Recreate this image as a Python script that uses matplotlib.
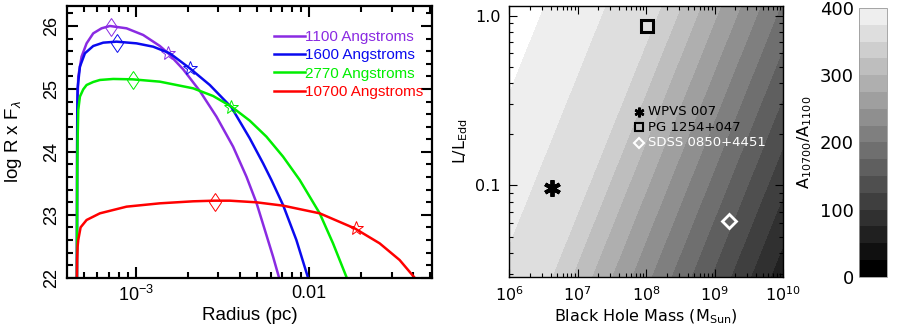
import numpy as np
import matplotlib
matplotlib.use('Agg')
import matplotlib.pyplot as plt
from matplotlib.ticker import FixedLocator, FixedFormatter, NullFormatter

# ---- left panel: log R x F_lambda vs radius (log10 r [pc], value)
purple_logr = [-3.3404, -3.3394, -3.3385, -3.3365, -3.3327, -3.3135, -3.2846, -3.2462, -3.1981,
               -3.1500, -3.0538, -2.9577, -2.8615, -2.8135, -2.7269, -2.6308, -2.5346, -2.4385,
               -2.3615, -2.3038, -2.2462, -2.2077, -2.1731]
purple_val = [22.000, 23.659, 24.401, 24.825, 25.196, 25.514, 25.725, 25.884, 25.964,
              26.001, 25.964, 25.858, 25.683, 25.567, 25.312, 24.968, 24.560, 24.083,
              23.606, 23.192, 22.678, 22.334, 22.000]

blue_logr = [-3.3404, -3.3394, -3.3385, -3.3365, -3.3231, -3.2942, -3.2462, -3.1885, -3.1115,
             -2.9962, -2.9000, -2.8038, -2.6885, -2.5731, -2.4481, -2.3423, -2.2654, -2.2173,
             -2.1500, -2.0731, -2.0058]
blue_val = [22.000, 23.871, 24.666, 25.010, 25.355, 25.567, 25.683, 25.736, 25.752,
            25.725, 25.672, 25.567, 25.328, 25.063, 24.708, 24.215, 23.818, 23.553,
            23.155, 22.599, 22.000]

green_logr = [-3.3404, -3.3394, -3.3385, -3.3365, -3.3327, -3.3231, -3.3038, -3.2846, -3.2462,
              -3.2077, -3.1308, -3.0192, -2.8615, -2.6692, -2.5538, -2.4481, -2.3423, -2.2462,
              -2.1500, -2.0538, -1.9385, -1.8615, -1.7808]
green_val = [22.000, 23.129, 23.765, 24.189, 24.666, 24.878, 24.994, 25.063, 25.111,
             25.143, 25.159, 25.153, 25.116, 25.010, 24.888, 24.719, 24.496, 24.242,
             23.924, 23.553, 23.023, 22.546, 21.989]

red_logr = [-3.3404, -3.3394, -3.3365, -3.3327, -3.3192, -3.2846, -3.2077, -3.0538, -2.8615,
            -2.6692, -2.5481, -2.4577, -2.3038, -2.1500, -1.9385, -1.7365, -1.5923, -1.4769,
            -1.3904]
red_val = [22.000, 22.281, 22.493, 22.599, 22.800, 22.917, 23.023, 23.129, 23.182,
           23.214, 23.224, 23.224, 23.198, 23.145, 23.023, 22.784, 22.546, 22.281,
           22.000]

series = [
    ('1100 Angstroms', '#8a2be2', purple_logr, purple_val, (-3.1442, 25.990), (-2.8135, 25.567)),
    ('1600 Angstroms', '#0a0aef', blue_logr, blue_val, (-3.1115, 25.736), (-2.6885, 25.328)),
    ('2770 Angstroms', '#00ee00', green_logr, green_val, (-3.0192, 25.143), (-2.4481, 24.719)),
    ('10700 Angstroms', '#ff0000', red_logr, red_val, (-2.5442, 23.208), (-1.7308, 22.784)),
]

# ---- right panel: A10700/A1100 bands; boundaries given as log M - log(L/Ledd)
bnd_u = [5.50, 6.46, 7.34, 8.16, 8.45, 8.74, 9.03, 9.32, 9.61, 9.90, 10.19, 10.48, 10.77,
         11.06, 11.35, 12.00]
bnd_val = [425, 400, 375, 350, 325, 300, 275, 250, 225, 200, 175, 150, 125,
           100, 75, 50]
levels = list(range(0, 425, 25))

objects = ['WPVS 007', 'PG 1254+047', 'SDSS 0850+4451']
obj_mass = [4.2e6, 1.01e8, 1.63e9]
obj_ledd = [0.096, 0.87, 0.0615]

fig = plt.figure(figsize=(9.0, 3.29), dpi=100)
plt.rcParams['mathtext.fontset'] = 'custom'
plt.rcParams['mathtext.rm'] = 'Liberation Sans'
plt.rcParams['mathtext.it'] = 'Liberation Sans:italic'

# ================= left panel
ax = fig.add_axes([0.0744, 0.156, 0.4056, 0.826])
for name, col, lr, v, dia, star in series:
    ax.plot(10 ** np.array(lr), v, color=col, lw=1.8, label=name)
    ax.plot(10 ** dia[0], dia[1], marker='d', ms=9.5, mfc='none', mec=col, mew=0.7)
    ax.plot(10 ** star[0], star[1], marker='*', ms=10, mfc='none', mec=col, mew=0.7)
ax.set_xscale('log')
ax.set_xlim(4.0e-4, 0.0513)
ax.set_ylim(22, 26.32)
ax.xaxis.set_major_locator(FixedLocator([1e-3, 1e-2]))
ax.xaxis.set_major_formatter(FixedFormatter(['$10^{-3}$', '0.01']))
minors = [k * 1e-4 for k in range(5, 10)] + [k * 1e-3 for k in range(2, 10)] + [k * 1e-2 for k in range(2, 6)]
ax.xaxis.set_minor_locator(FixedLocator(minors))
ax.xaxis.set_minor_formatter(NullFormatter())
ax.set_yticks([22, 23, 24, 25, 26])
ax.set_yticks(np.arange(22, 26.4, 0.2), minor=True)
for s in ax.spines.values():
    s.set_linewidth(1.6)
ax.tick_params(which='both', direction='in', top=True, right=True, width=1.5,
               labelsize=13, pad=5)
ax.tick_params(which='major', length=8)
ax.tick_params(which='minor', length=4)
for t in ax.get_xticklabels() + ax.get_yticklabels():
    t.set_family('Liberation Sans')
plt.setp(ax.get_yticklabels(), rotation=90, va='center')
ax.set_xlabel('Radius (pc)', family='Liberation Sans', fontsize=13.5, labelpad=2)
ax.set_ylabel(r'log R x F$_\lambda$', family='Liberation Sans', fontsize=13.5)
ax.yaxis.set_label_coords(-0.117, 0.5)
leg = ax.legend(loc='upper right', bbox_to_anchor=(1.0, 0.945), frameon=False, handlelength=2.0,
                handletextpad=0.0, labelspacing=0.28, prop={'family': 'Liberation Sans', 'size': 11},
                borderaxespad=0.2)
for txt, line in zip(leg.get_texts(), leg.get_lines()):
    txt.set_color(line.get_color())

# ================= right panel
ax2 = fig.add_axes([0.5659, 0.159, 0.3044, 0.823])
mm = np.logspace(6, 10, 500)
ll = np.logspace(np.log10(0.029), np.log10(1.14), 400)
MM, LL = np.meshgrid(mm, ll)
field = np.interp(np.log10(MM) - np.log10(LL), bnd_u, bnd_val)
grays = [str(i * 0xEE / 15 / 255) for i in range(16)]
cs = ax2.contourf(MM, LL, field, levels=levels, colors=grays, antialiased=False)
ax2.set_xscale('log')
ax2.set_yscale('log')
ax2.set_xlim(1e6, 1e10)
ax2.set_ylim(0.029, 1.14)

ax2.plot(obj_mass[0], obj_ledd[0], marker=(6, 2, 0), ms=12, mec='black', mew=2.8, ls='none')
ax2.plot(obj_mass[1], obj_ledd[1], marker='s', ms=8.5, mfc='none', mec='black', mew=2.2, ls='none')
ax2.plot(obj_mass[2], obj_ledd[2], marker='D', ms=7, mfc='none', mec='white', mew=2.0, ls='none')

# key
kx, ky, kdy = 0.475, 0.61, 0.058
ax2.plot(kx, ky, transform=ax2.transAxes, marker=(6, 2, 0), ms=7, mec='black', mew=1.8)
ax2.plot(kx, ky - kdy, transform=ax2.transAxes, marker='s', ms=6, mfc='none', mec='black', mew=1.5)
ax2.plot(kx, ky - 2 * kdy, transform=ax2.transAxes, marker='D', ms=5, mfc='none', mec='white', mew=1.5)
for i, (name, col) in enumerate(zip(objects, ['black', 'black', 'white'])):
    ax2.text(kx + 0.032, ky - i * kdy, name, transform=ax2.transAxes, color=col,
             fontsize=9.5, va='center', ha='left', family='DejaVu Sans')

ax2.xaxis.set_major_locator(FixedLocator([1e6, 1e7, 1e8, 1e9, 1e10]))
ax2.xaxis.set_major_formatter(FixedFormatter([r'$\mathregular{10^{6}}$', r'$\mathregular{10^{7}}$',
                                              r'$\mathregular{10^{8}}$', r'$\mathregular{10^{9}}$',
                                              r'$\mathregular{10^{10}}$']))
xmin = [k * 10.0 ** e for e in range(6, 10) for k in range(2, 10)]
ax2.xaxis.set_minor_locator(FixedLocator(xmin))
ax2.xaxis.set_minor_formatter(NullFormatter())
ax2.yaxis.set_major_locator(FixedLocator([0.1, 1.0]))
ax2.yaxis.set_major_formatter(FixedFormatter(['0.1', '1.0']))
ymin = [k * 0.01 for k in range(3, 10)] + [k * 0.1 for k in range(2, 10)]
ax2.yaxis.set_minor_locator(FixedLocator(ymin))
ax2.yaxis.set_minor_formatter(NullFormatter())
for s in ax2.spines.values():
    s.set_linewidth(1.0)
ax2.tick_params(which='both', direction='in', top=True, right=True, width=0.8,
                labelsize=11.5, pad=6)
ax2.tick_params(which='major', length=6)
ax2.tick_params(which='minor', length=3)
for t in ax2.get_xticklabels() + ax2.get_yticklabels():
    t.set_family('DejaVu Sans')
ax2.set_xlabel(r'Black Hole Mass (M$_{\mathregular{Sun}}$)', family='DejaVu Sans', fontsize=11.5, labelpad=3)
ax2.set_ylabel(r'L/L$_{\mathregular{Edd}}$', family='DejaVu Sans', fontsize=11.5, labelpad=4)

# ================= colour bar
cax = fig.add_axes([0.9548, 0.159, 0.0304, 0.8167])
cb = fig.colorbar(cs, cax=cax, ticks=[0, 100, 200, 300, 400])
cb.outline.set_linewidth(0.6)
cb.outline.set_edgecolor('#999999')
cax.yaxis.set_ticks_position('left')
cax.yaxis.set_label_position('left')
cax.tick_params(length=0, labelsize=13, pad=4)
for t in cax.get_yticklabels():
    t.set_family('DejaVu Sans')
cb.set_label(r'A$_{\mathregular{10700}}$/A$_{\mathregular{1100}}$', family='DejaVu Sans', fontsize=11.5,
             labelpad=4)

fig.savefig('out.png', dpi=100)
